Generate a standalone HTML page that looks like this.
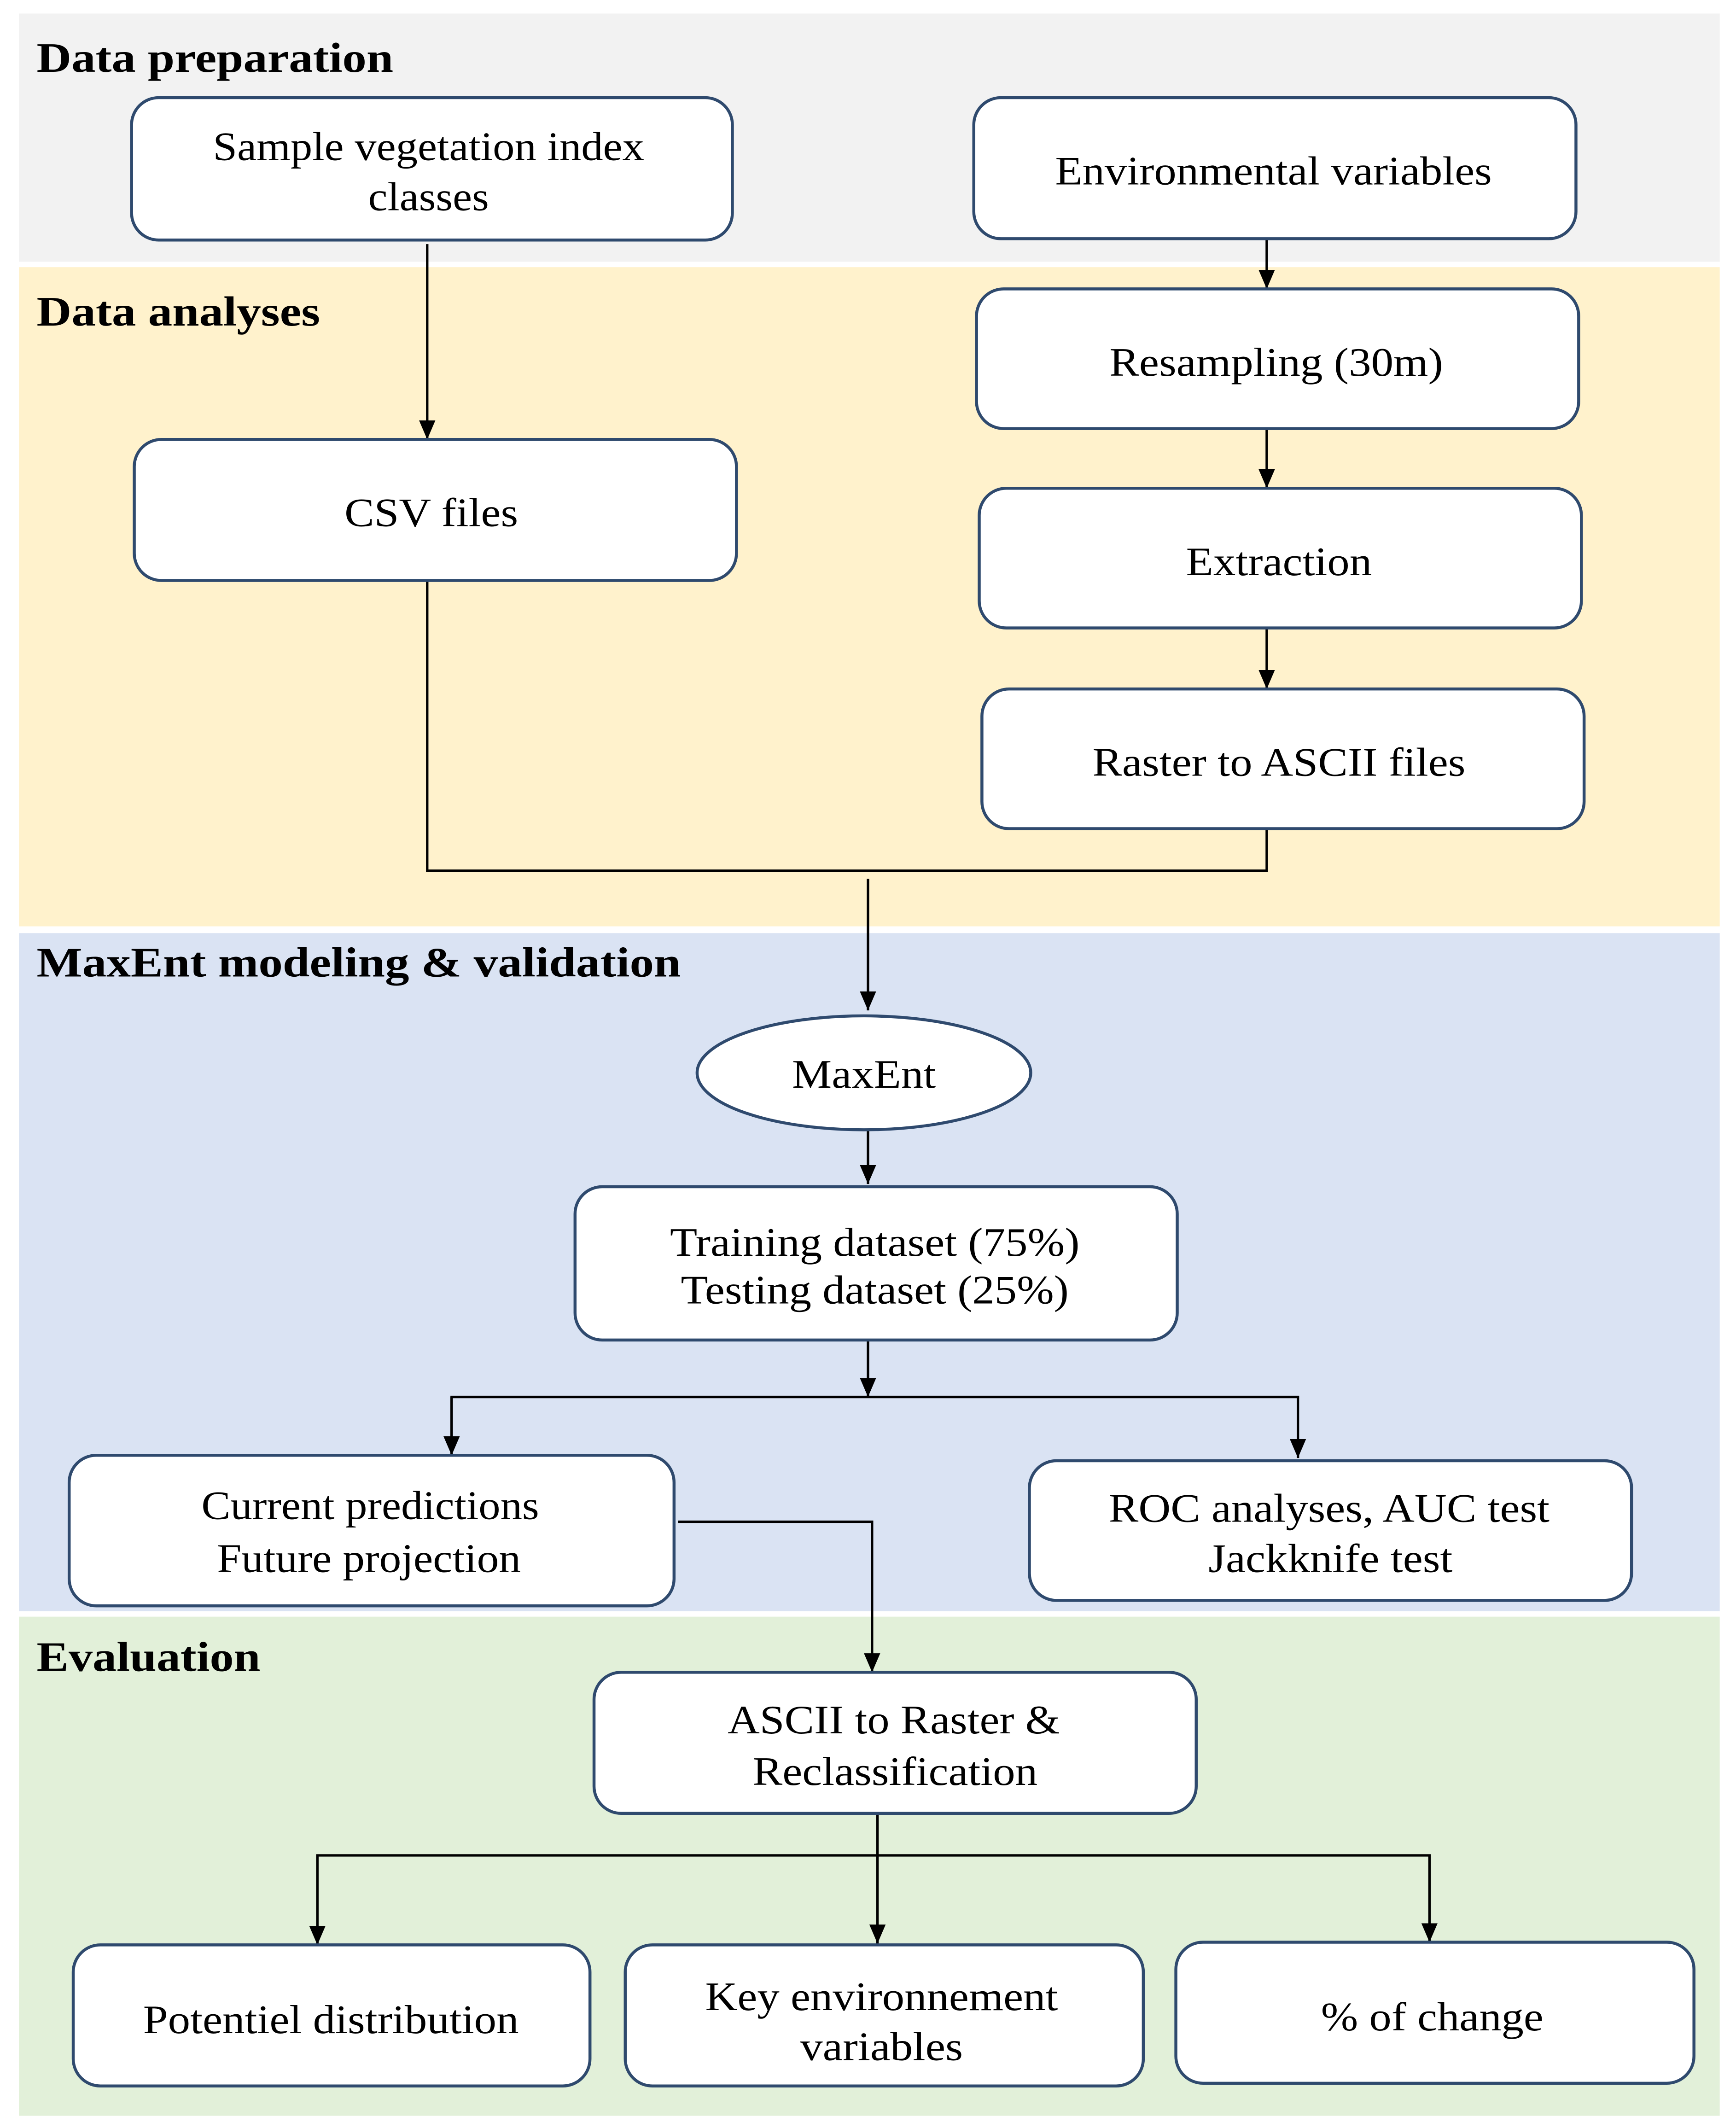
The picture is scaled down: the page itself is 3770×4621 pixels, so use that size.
<!DOCTYPE html>
<html><head><meta charset="utf-8"><style>
html,body{margin:0;padding:0;background:#fff;}
svg{display:block;}
text{font-family:"Liberation Serif",serif;fill:#000;}
.t{font-size:30px;text-anchor:middle;}
.h{font-size:31px;font-weight:bold;}
.b{fill:#fff;stroke:#2f4a6e;stroke-width:2.2;}
.l{stroke:#000;stroke-width:1.8;fill:none;}
</style></head><body>
<svg width="3770" height="4621" viewBox="0 0 1280 1569" preserveAspectRatio="none">
<defs>
<marker id="ad" viewBox="0 0 12 14" markerWidth="12" markerHeight="14" refX="6" refY="14" orient="0" markerUnits="userSpaceOnUse"><path d="M0,0 L12,0 L6,14 Z" fill="#000"/></marker></defs>
<rect x="14" y="10" width="1254" height="183" fill="#f2f2f2"/>
<rect x="14" y="197" width="1254" height="486" fill="#fff2cc"/>
<rect x="14" y="688" width="1254" height="500" fill="#dae3f3"/>
<rect x="14" y="1192" width="1254" height="368" fill="#e2f0d9"/>
<text class="h" x="27" y="53" textLength="263" lengthAdjust="spacingAndGlyphs">Data preparation</text>
<text class="h" x="27" y="240" textLength="209" lengthAdjust="spacingAndGlyphs">Data analyses</text>
<text class="h" x="27" y="720" textLength="475" lengthAdjust="spacingAndGlyphs">MaxEnt modeling &amp; validation</text>
<text class="h" x="27" y="1232" textLength="165" lengthAdjust="spacingAndGlyphs">Evaluation</text>
<g class="l">
<path d="M315,180 V324" marker-end="url(#ad)"/>
<path d="M934,176 V213" marker-end="url(#ad)"/>
<path d="M934,316 V360" marker-end="url(#ad)"/>
<path d="M934,463 V508" marker-end="url(#ad)"/>
<path d="M315,428 V642 H934 V611"/>
<path d="M640,648 V745" marker-end="url(#ad)"/>
<path d="M640,833 V873" marker-end="url(#ad)"/>
<path d="M640,988 V1030" marker-end="url(#ad)"/>
<path d="M333,1073 V1030 H957 V1075" marker-end="url(#ad)"/>
<path d="M333,1030 V1073" marker-end="url(#ad)"/>
<path d="M500,1122 H643 V1233" marker-end="url(#ad)"/>
<path d="M647,1337 V1433" marker-end="url(#ad)"/>
<path d="M234,1434 V1368 H1054 V1432" marker-end="url(#ad)"/>
<path d="M234,1368 V1434" marker-end="url(#ad)"/>
</g>
<rect class="b" x="97" y="72" width="443" height="105" rx="20"/>
<text class="t" x="316" y="118" textLength="318" lengthAdjust="spacingAndGlyphs">Sample vegetation index</text><text class="t" x="316" y="155" textLength="89" lengthAdjust="spacingAndGlyphs">classes</text>
<rect class="b" x="718" y="72" width="444" height="104" rx="20"/>
<text class="t" x="939" y="136" textLength="322" lengthAdjust="spacingAndGlyphs">Environmental variables</text>
<rect class="b" x="720" y="213" width="444" height="103" rx="20"/>
<text class="t" x="941" y="277" textLength="246" lengthAdjust="spacingAndGlyphs">Resampling (30m)</text>
<rect class="b" x="99" y="324" width="444" height="104" rx="20"/>
<text class="t" x="318" y="388" textLength="128" lengthAdjust="spacingAndGlyphs">CSV files</text>
<rect class="b" x="722" y="360" width="444" height="103" rx="20"/>
<text class="t" x="943" y="424" textLength="137" lengthAdjust="spacingAndGlyphs">Extraction</text>
<rect class="b" x="724" y="508" width="444" height="103" rx="20"/>
<text class="t" x="943" y="572" textLength="275" lengthAdjust="spacingAndGlyphs">Raster to ASCII files</text>
<ellipse class="b" cx="637" cy="791" rx="123" ry="42"/>
<text class="t" x="637" y="802" textLength="106" lengthAdjust="spacingAndGlyphs">MaxEnt</text>
<rect class="b" x="424" y="875" width="444" height="113" rx="20"/>
<text class="t" x="645" y="926" textLength="302" lengthAdjust="spacingAndGlyphs">Training dataset (75%)</text><text class="t" x="645" y="961" textLength="286" lengthAdjust="spacingAndGlyphs">Testing dataset (25%)</text>
<rect class="b" x="51" y="1073" width="446" height="111" rx="20"/>
<text class="t" x="273" y="1120" textLength="249" lengthAdjust="spacingAndGlyphs">Current predictions</text><text class="t" x="272" y="1159" textLength="224" lengthAdjust="spacingAndGlyphs">Future projection</text>
<rect class="b" x="759" y="1077" width="444" height="103" rx="20"/>
<text class="t" x="980" y="1122" textLength="325" lengthAdjust="spacingAndGlyphs">ROC analyses, AUC test</text><text class="t" x="981" y="1159" textLength="180" lengthAdjust="spacingAndGlyphs">Jackknife test</text>
<rect class="b" x="438" y="1233" width="444" height="104" rx="20"/>
<text class="t" x="659" y="1278" textLength="245" lengthAdjust="spacingAndGlyphs">ASCII to Raster &amp;</text><text class="t" x="660" y="1316" textLength="210" lengthAdjust="spacingAndGlyphs">Reclassification</text>
<rect class="b" x="54" y="1434" width="381" height="104" rx="20"/>
<text class="t" x="244" y="1499" textLength="277" lengthAdjust="spacingAndGlyphs">Potentiel distribution</text>
<rect class="b" x="461" y="1434" width="382" height="104" rx="20"/>
<text class="t" x="650" y="1482" textLength="260" lengthAdjust="spacingAndGlyphs">Key environnement</text><text class="t" x="650" y="1519" textLength="120" lengthAdjust="spacingAndGlyphs">variables</text>
<rect class="b" x="867" y="1432" width="382" height="104" rx="20"/>
<text class="t" x="1056" y="1497" textLength="164" lengthAdjust="spacingAndGlyphs">% of change</text>
</svg>
</body></html>
